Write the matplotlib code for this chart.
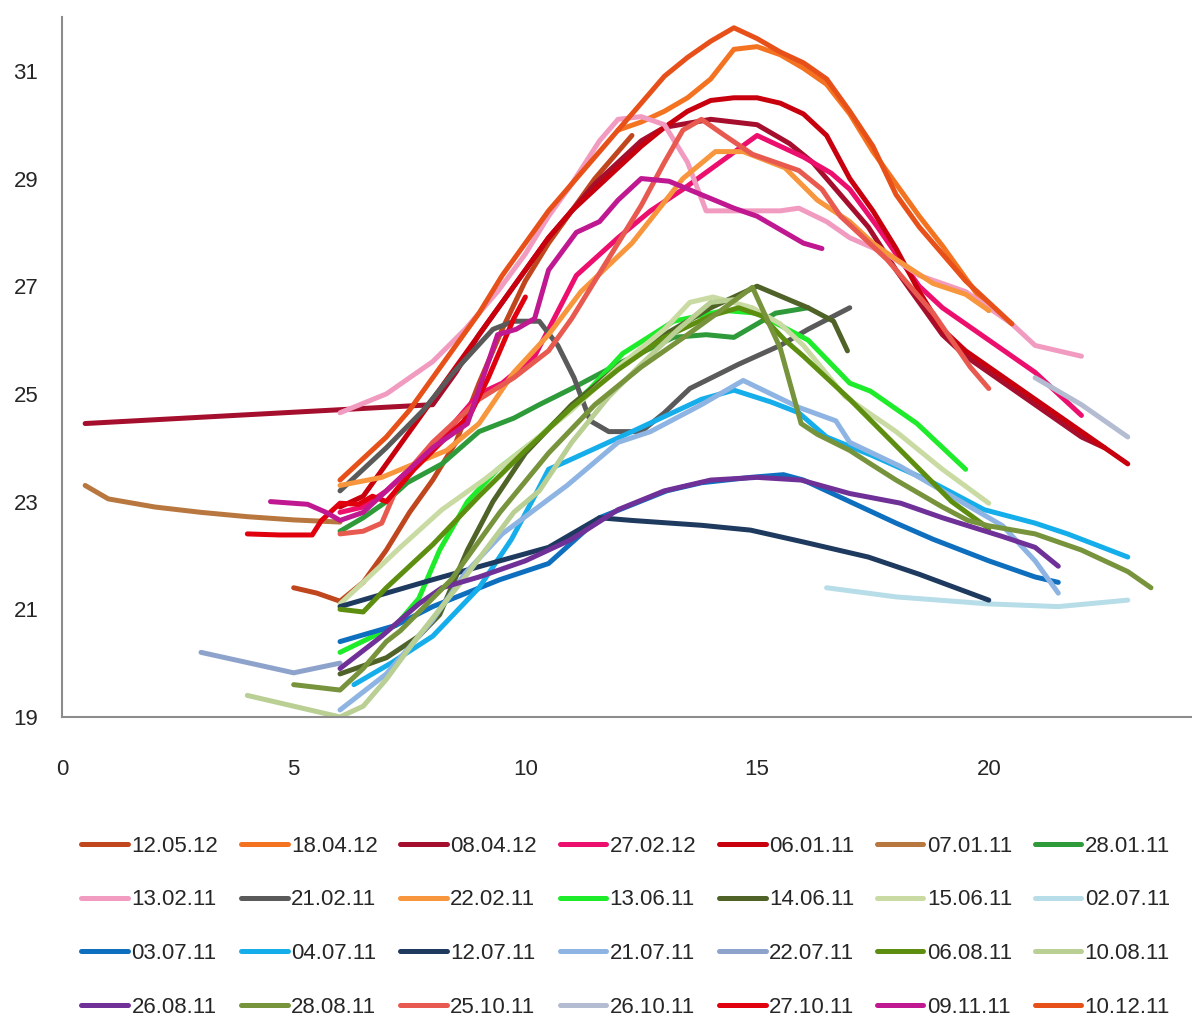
import matplotlib
matplotlib.use("Agg")
import matplotlib.pyplot as plt

plt.rcParams['font.family'] = ['Liberation Sans', 'DejaVu Sans']

# hour of day / temperature, one pair of lists per day
h_120512 = [5, 5.5, 6, 6.5, 7, 7.5, 8, 8.5, 9, 9.5, 10, 10.5, 11, 11.5, 12, 12.3]
t_120512 = [21.4, 21.3, 21.15, 21.5, 22.1, 22.8, 23.4, 24.1, 25.2, 26.2, 27.1, 27.8, 28.4, 29.0, 29.5, 29.8]

h_180412 = [12, 12.5, 13, 13.5, 14, 14.5, 15, 15.5, 16, 16.5, 17, 17.5, 18, 18.5, 19, 19.5, 20]
t_180412 = [29.9, 30.05, 30.25, 30.5, 30.85, 31.4, 31.45, 31.3, 31.05, 30.75, 30.2, 29.5, 28.9, 28.3, 27.75, 27.15, 26.55]

h_080412 = [0.5, 8, 8.5, 9, 9.5, 10, 10.5, 11, 11.5, 12, 12.5, 13, 14, 15, 15.7, 16.2, 16.7,
            17.4, 18, 18.5, 19, 19.5, 20, 20.5, 21, 21.5, 22, 22.5]
t_080412 = [24.45, 24.8, 25.4, 26.1, 26.7, 27.3, 27.9, 28.4, 28.9, 29.3, 29.7, 29.95, 30.1, 30.0, 29.65, 29.3, 28.8,
            28.1, 27.3, 26.7, 26.1, 25.7, 25.4, 25.1, 24.8, 24.5, 24.2, 24.0]

h_270212 = [6, 6.5, 7, 7.5, 8, 8.5, 9, 9.5, 10.2, 11.1, 12, 12.7, 13.4, 14.2, 15, 15.5, 16, 16.6,
            17, 17.6, 18, 18.5, 19, 19.5, 20, 21, 22]
t_270212 = [22.8, 22.9, 23.2, 23.6, 24.0, 24.5, 25.0, 25.2, 25.7, 27.2, 27.9, 28.4, 28.8, 29.3, 29.8, 29.6, 29.4, 29.1,
            28.8, 28.1, 27.6, 27.0, 26.6, 26.3, 26.0, 25.4, 24.6]

h_060111 = [6, 6.5, 7, 7.5, 8, 8.5, 9, 9.5, 10, 10.5, 11, 11.5, 12, 12.5, 13, 13.5, 14, 14.5, 15, 15.5,
            16, 16.5, 17, 17.5, 18, 18.5, 19, 19.5, 20, 20.5, 21, 21.5, 22, 22.5, 23]
t_060111 = [22.9, 23.1, 23.7, 24.3, 24.9, 25.5, 26.1, 26.7, 27.3, 27.9, 28.4, 28.8, 29.2, 29.6, 29.95, 30.25, 30.45, 30.5, 30.5, 30.4,
            30.2, 29.8, 29.0, 28.4, 27.7, 26.9, 26.2, 25.8, 25.5, 25.2, 24.9, 24.6, 24.3, 24.0, 23.7]

h_070111 = [0.5, 1, 2, 3, 4, 5, 6]
t_070111 = [23.3, 23.05, 22.9, 22.8, 22.72, 22.66, 22.62]

h_280111 = [6, 6.5, 7, 7.45, 8.2, 9, 9.75, 10.3, 11, 12.1, 13.2, 13.9, 14.5, 15.4, 16.1]
t_280111 = [22.45, 22.7, 23.0, 23.35, 23.7, 24.3, 24.55, 24.8, 25.1, 25.6, 26.05, 26.1, 26.05, 26.5, 26.6]

h_130211 = [6, 7, 8, 8.7, 9.4, 10, 10.5, 11, 11.6, 12, 12.5, 13, 13.5, 13.9, 14.5, 15, 15.5, 15.9,
            16.5, 17, 17.8, 18.5, 19.5, 20.5, 21, 21.5, 22]
t_130211 = [24.65, 25.0, 25.6, 26.2, 26.9, 27.6, 28.3, 28.9, 29.7, 30.1, 30.15, 30.0, 29.3, 28.4, 28.4, 28.4, 28.4, 28.45,
            28.2, 27.9, 27.6, 27.2, 26.9, 26.3, 25.9, 25.8, 25.7]

h_210211 = [6, 6.5, 7, 7.8, 8.45, 9.3, 9.75, 10.3, 10.7, 11.05, 11.4, 11.8, 12.5, 13, 13.55, 14.6, 15.5, 16.1, 17]
t_210211 = [23.2, 23.6, 24.0, 24.7, 25.4, 26.2, 26.35, 26.35, 25.9, 25.3, 24.5, 24.3, 24.3, 24.65, 25.1, 25.55, 25.9, 26.2, 26.6]

h_220211 = [6, 6.9, 7.6, 8.3, 9, 9.75, 10.5, 11.2, 12.3, 13.4, 14.1, 14.7, 15.6, 16.3, 17, 17.5, 18, 18.8, 19.5, 20]
t_220211 = [23.3, 23.45, 23.7, 23.95, 24.45, 25.4, 26.1, 26.9, 27.8, 29.0, 29.5, 29.5, 29.2, 28.6, 28.2, 27.8, 27.5, 27.05, 26.85, 26.55]

h_130611 = [6, 6.6, 7.2, 7.7, 8.15, 8.75, 9.4, 10.3, 11.4, 12.1, 13.2, 14.3, 15, 16.1, 17, 17.45, 18.45, 19.5]
t_130611 = [20.2, 20.45, 20.7, 21.2, 22.1, 23.0, 23.6, 24.2, 25.1, 25.75, 26.35, 26.55, 26.5, 26.0, 25.2, 25.05, 24.45, 23.6]

h_140611 = [6, 7, 7.7, 8.15, 8.75, 9.3, 10, 11, 12, 13, 14, 15, 16.1, 16.65, 16.95]
t_140611 = [19.8, 20.1, 20.5, 20.9, 22.1, 23.0, 23.9, 24.8, 25.5, 26.1, 26.6, 27.0, 26.6, 26.35, 25.8]

h_150611 = [6, 6.5, 7.3, 8.2, 9.1, 10, 11, 12, 13, 13.55, 14.05, 14.9, 15.5, 16, 16.9, 18, 19, 20]
t_150611 = [21.1, 21.5, 22.15, 22.85, 23.4, 24.0, 24.7, 25.5, 26.2, 26.7, 26.8, 26.6, 26.3, 25.9, 24.95, 24.3, 23.6, 22.97]

h_020711 = [16.5, 18, 20, 21.5, 23]
t_020711 = [21.4, 21.23, 21.1, 21.05, 21.17]

h_030711 = [6, 7.2, 8, 9.45, 10.5, 11.6, 13.05, 13.8, 14.86, 15.57, 16, 17, 18, 18.8, 20, 21, 21.5]
t_030711 = [20.4, 20.7, 21.05, 21.55, 21.85, 22.7, 23.2, 23.35, 23.45, 23.5, 23.4, 23.0, 22.6, 22.3, 21.9, 21.6, 21.5]

h_040711 = [6.3, 7.1, 8, 9, 9.7, 10.2, 10.5, 10.9, 12.3, 13.8, 14.5, 15.3, 15.9, 16.5, 17.5, 18.8, 19.9, 21, 21.7, 23]
t_040711 = [19.6, 20.0, 20.5, 21.4, 22.3, 23.1, 23.6, 23.75, 24.3, 24.9, 25.07, 24.85, 24.65, 24.2, 23.85, 23.35, 22.85, 22.6, 22.4, 21.97]

h_120711 = [6, 7, 8, 9.45, 10.5, 11.6, 12.3, 13.8, 14.86, 16, 17.4, 18.5, 20]
t_120711 = [21.05, 21.3, 21.55, 21.9, 22.15, 22.7, 22.65, 22.56, 22.47, 22.25, 21.97, 21.65, 21.17]

h_210711 = [6, 7, 8, 8.7, 9.5, 10.9, 12, 12.7, 13.8, 14.7, 15.9, 16.7, 17, 18.1, 19, 20.3, 21, 21.5]
t_210711 = [19.13, 19.8, 20.8, 21.67, 22.4, 23.3, 24.1, 24.3, 24.8, 25.25, 24.75, 24.5, 24.1, 23.65, 23.2, 22.55, 21.9, 21.3]

h_220711 = [3, 5, 6]
t_220711 = [20.2, 19.82, 20.0]

h_060811 = [6, 6.5, 7, 8, 9, 10, 11, 12, 13, 14, 14.6, 15.1, 15.6, 16, 17, 18.1, 19.2, 20]
t_060811 = [21.0, 20.95, 21.4, 22.2, 23.1, 23.95, 24.75, 25.45, 26.05, 26.45, 26.6, 26.45, 26.0, 25.7, 24.9, 23.95, 23.0, 22.5]

h_100811 = [4, 5, 6, 6.5, 7, 7.6, 8.7, 9.75, 10.3, 11, 11.8, 12.5, 13.3, 14, 14.5]
t_100811 = [19.4, 19.2, 19.0, 19.2, 19.7, 20.4, 21.6, 22.8, 23.2, 24.1, 24.95, 25.55, 26.2, 26.7, 26.75]

h_260811 = [6, 6.9, 7.7, 8.2, 9, 10, 11, 12, 13, 14, 15, 15.95, 17, 18.1, 19, 20.3, 21, 21.5]
t_260811 = [19.9, 20.5, 21.1, 21.4, 21.6, 21.9, 22.3, 22.85, 23.2, 23.4, 23.45, 23.4, 23.15, 22.97, 22.7, 22.35, 22.15, 21.8]

h_280811 = [5, 5.5, 6, 6.5, 7, 7.3, 8.4, 9.45, 10.5, 11.5, 12.5, 13.5, 14.3, 14.9, 15.5, 15.95, 16.3,
            17, 17.45, 18, 19, 19.55, 20, 21, 22, 23, 23.5]
t_280811 = [19.6, 19.55, 19.5, 19.9, 20.4, 20.6, 21.55, 22.8, 23.9, 24.8, 25.5, 26.1, 26.6, 26.98, 25.85, 24.45, 24.25,
            23.95, 23.7, 23.4, 22.9, 22.65, 22.55, 22.4, 22.1, 21.7, 21.4]

h_251011 = [6, 6.5, 6.9, 7.2, 7.6, 8, 8.5, 9, 9.75, 10.5, 11, 11.5, 12, 12.5, 13, 13.4, 13.8, 14.3, 14.9,
            15.4, 15.9, 16.4, 16.8, 17.3, 17.8, 18.3, 18.8, 19.2, 19.6, 20]
t_251011 = [22.4, 22.45, 22.6, 23.2, 23.7, 24.1, 24.5, 24.9, 25.3, 25.8, 26.4, 27.1, 27.8, 28.5, 29.3, 29.9, 30.1, 29.8, 29.45,
            29.3, 29.15, 28.8, 28.3, 27.9, 27.5, 27.0, 26.5, 26.0, 25.5, 25.1]

h_261011 = [21, 22, 23]
t_261011 = [25.3, 24.8, 24.2]

h_271011 = [4, 4.7, 5.4, 5.6, 6, 6.4, 6.7, 7, 7.6, 8.3, 8.8, 9.2, 9.75, 10]
t_271011 = [22.4, 22.38, 22.38, 22.65, 22.97, 22.95, 23.1, 23.0, 23.6, 24.2, 24.6, 25.3, 26.4, 26.8]

h_091111 = [4.5, 5.3, 5.7, 6, 6.5, 7, 7.5, 8, 8.75, 9.4, 9.8, 10.2, 10.5, 11.1, 11.6, 12, 12.5,
            13.1, 13.8, 14.5, 15, 15.5, 16, 16.4]
t_091111 = [23.0, 22.95, 22.8, 22.65, 22.8, 23.2, 23.6, 24.0, 24.45, 26.1, 26.2, 26.4, 27.3, 28.0, 28.2, 28.6, 29.0,
            28.95, 28.7, 28.45, 28.3, 28.05, 27.8, 27.7]

h_101211 = [6, 6.5, 7, 7.5, 8, 8.5, 9, 9.5, 10, 10.5, 11, 11.5, 12, 12.5, 13, 13.5, 14, 14.5, 15,
            15.5, 16, 16.5, 17, 17.5, 18, 18.5, 19, 19.5, 20, 20.5]
t_101211 = [23.4, 23.8, 24.2, 24.7, 25.3, 25.9, 26.5, 27.2, 27.8, 28.4, 28.9, 29.4, 29.9, 30.4, 30.9, 31.25, 31.55, 31.8, 31.6,
            31.35, 31.15, 30.85, 30.25, 29.6, 28.7, 28.1, 27.6, 27.1, 26.7, 26.3]

labels = ['12.05.12', '18.04.12', '08.04.12', '27.02.12', '06.01.11', '07.01.11', '28.01.11',
          '13.02.11', '21.02.11', '22.02.11', '13.06.11', '14.06.11', '15.06.11', '02.07.11',
          '03.07.11', '04.07.11', '12.07.11', '21.07.11', '22.07.11', '06.08.11', '10.08.11',
          '26.08.11', '28.08.11', '25.10.11', '26.10.11', '27.10.11', '09.11.11', '10.12.11']

colors = ['#C0461E', '#F47321', '#A50E2D', '#EC0F6E', '#C8000E', '#B8773E', '#2E9A3A',
          '#F29BC1', '#5A5A5A', '#F7963C', '#1EEB2A', '#4F6228', '#C9DBA3', '#B7DDE8',
          '#0F6FBF', '#15AEEA', '#1F3A5F', '#8DB4E2', '#8EA3CC', '#5E8E10', '#B9CF93',
          '#6F3198', '#77933C', '#E8594F', '#B4BCD2', '#E0000E', '#C01890', '#E8501A']

hours = [h_120512, h_180412, h_080412, h_270212, h_060111, h_070111, h_280111,
         h_130211, h_210211, h_220211, h_130611, h_140611, h_150611, h_020711,
         h_030711, h_040711, h_120711, h_210711, h_220711, h_060811, h_100811,
         h_260811, h_280811, h_251011, h_261011, h_271011, h_091111, h_101211]
temps = [t_120512, t_180412, t_080412, t_270212, t_060111, t_070111, t_280111,
         t_130211, t_210211, t_220211, t_130611, t_140611, t_150611, t_020711,
         t_030711, t_040711, t_120711, t_210711, t_220711, t_060811, t_100811,
         t_260811, t_280811, t_251011, t_261011, t_271011, t_091111, t_101211]

fig = plt.figure(figsize=(11.92, 10.19), dpi=100)
ax = fig.add_axes([0.052, 0.2964, 0.947, 0.6869])

lines = []
for x, y, lab, col in zip(hours, temps, labels, colors):
    ln, = ax.plot(x, y, color=col, lw=3.6, label=lab,
                  solid_capstyle='round', solid_joinstyle='round')
    lines.append(ln)

ax.set_xlim(0, 24.36)
ax.set_ylim(19, 32)
ax.set_xticks([0, 5, 10, 15, 20])
ax.set_yticks([19, 21, 23, 25, 27, 29, 31])
ax.tick_params(axis='both', length=0, labelsize=16, labelcolor='#262626')
ax.tick_params(axis='x', pad=30)
ax.tick_params(axis='y', pad=17)

for side in ['top', 'right']:
    ax.spines[side].set_visible(False)
for side in ['left', 'bottom']:
    ax.spines[side].set_color('#8C8C8C')
    ax.spines[side].set_linewidth(1.5)

# legend reads row by row, matplotlib fills columns first
ncol, nrow = 7, 4
order = [r * ncol + c for c in range(ncol) for r in range(nrow)]
leg = fig.legend([lines[i] for i in order], [labels[i] for i in order],
                 ncol=ncol, loc='center', bbox_to_anchor=(0.525, 0.0905),
                 frameon=False, fontsize=16, handlelength=2.1, handletextpad=0.15,
                 columnspacing=1.02, labelspacing=1.47, borderpad=0)
for t in leg.get_texts():
    t.set_color('#262626')

fig.savefig('out.png', dpi=100)
